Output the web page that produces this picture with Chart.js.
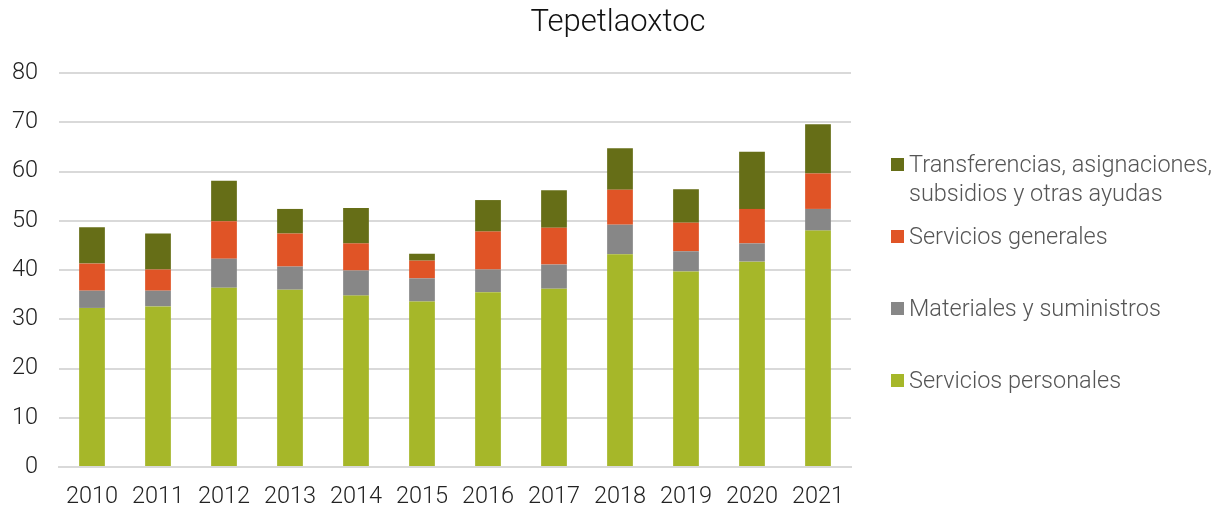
<!DOCTYPE html>
<html>
<head>
<meta charset="utf-8">
<script src="https://cdn.jsdelivr.net/npm/chart.js@4/dist/chart.umd.min.js"></script>
<style>
  html, body { margin: 0; padding: 0; background: #fff; }
  #wrap { position: relative; width: 1223px; height: 509px; font-family: "Roboto", "Liberation Sans", sans-serif; font-weight: 300; }
  #title { position: absolute; left: 0; width: 1236px; top: 2px; text-align: center; font-size: 31px; color: #111; }
  #legend { position: absolute; left: 891px; top: 0; }
  .item { position: absolute; left: 0; white-space: nowrap; font-size: 23.5px; line-height: 29px; color: #555; }
  .sw { position: absolute; left: 0; top: 8px; width: 13px; height: 13px; }
  .txt { position: absolute; left: 18px; top: 0; }
</style>
</head>
<body>
<div id="wrap">
  <canvas id="c" width="1223" height="509"></canvas>
  <div id="title">Tepetlaoxtoc</div>
  <div id="legend"></div>
</div>
<script>
const categories = ["2010","2011","2012","2013","2014","2015","2016","2017","2018","2019","2020","2021"];
const serviciosPersonales = [32.3, 32.6, 36.4, 36.0, 34.8, 33.6, 35.5, 36.2, 43.2, 39.7, 41.7, 48.0];
const materialesSuministros = [3.5, 3.2, 5.9, 4.7, 5.1, 4.7, 4.6, 4.9, 6.0, 4.1, 3.7, 4.4];
const serviciosGenerales = [5.5, 4.3, 7.6, 6.7, 5.5, 3.6, 7.7, 7.5, 7.1, 5.8, 7.0, 7.2];
const transferencias = [7.4, 7.3, 8.2, 5.0, 7.2, 1.4, 6.4, 7.6, 8.4, 6.8, 11.6, 10.0];
const yTicks = [0, 10, 20, 30, 40, 50, 60, 70, 80];

const datasets = [
  { label: "Servicios personales", data: serviciosPersonales, backgroundColor: "#a6b729" },
  { label: "Materiales y suministros", data: materialesSuministros, backgroundColor: "#878787" },
  { label: "Servicios generales", data: serviciosGenerales, backgroundColor: "#e05426" },
  { label: "Transferencias, asignaciones, subsidios y otras ayudas", data: transferencias, backgroundColor: "#666e17" }
];

const font = { family: "Roboto, 'Liberation Sans', sans-serif", size: 23.5, weight: 300 };

new Chart(document.getElementById("c"), {
  type: "bar",
  data: { labels: categories, datasets: datasets.map(d => Object.assign({ barPercentage: 0.39, categoryPercentage: 1.0, borderWidth: 0 }, d)) },
  options: {
    responsive: false,
    animation: false,
    layout: { padding: { top: 73, right: 372, left: 0, bottom: 0 } },
    plugins: { legend: { display: false }, title: { display: false }, tooltip: { enabled: false } },
    scales: {
      x: {
        stacked: true,
        grid: { display: false, drawTicks: false },
        border: { display: true, color: "#d9d9d9", width: 2 },
        ticks: { color: "#222", font: font, padding: 16, maxRotation: 0 },
        afterFit: s => { s.height = 42; }
      },
      y: {
        stacked: true,
        min: 0, max: 80,
        afterBuildTicks: s => { s.ticks = yTicks.map(v => ({ value: v })); },
        grid: { color: "#d9d9d9", lineWidth: 2, drawTicks: false },
        border: { display: false },
        ticks: { color: "#222", font: font, padding: 21 },
        afterFit: s => { s.width = 59; }
      }
    }
  }
});

// HTML legend built from datasets (reverse order, as in the reference)
const legendTops = [150, 222, 294, 366];
const legendLabels = [
  ["Transferencias, asignaciones,", "subsidios y otras ayudas"],
  ["Servicios generales"],
  ["Materiales y suministros"],
  ["Servicios personales"]
];
const lg = document.getElementById("legend");
datasets.slice().reverse().forEach((d, i) => {
  const it = document.createElement("div");
  it.className = "item";
  it.style.top = legendTops[i] + "px";
  const sw = document.createElement("div");
  sw.className = "sw";
  sw.style.background = d.backgroundColor;
  const tx = document.createElement("div");
  tx.className = "txt";
  tx.innerHTML = legendLabels[i].join("<br>");
  it.appendChild(sw); it.appendChild(tx);
  lg.appendChild(it);
});
</script>
</body>
</html>
